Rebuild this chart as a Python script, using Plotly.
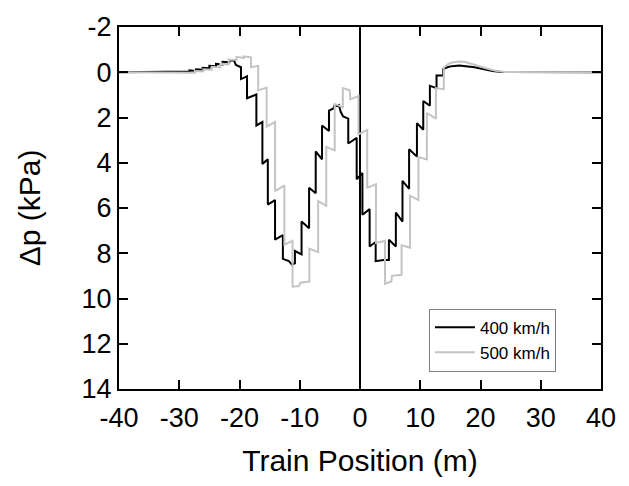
import plotly.graph_objects as go

# 400 km/h trace vertices (x in m, y in kPa)
black_pts = [(-40, 0), (-29.5, 0), (-28.3, -0.03), (-28.3, -0.08), (-27.2, -0.06), (-27.2, -0.13),
             (-26.1, -0.11), (-26.1, -0.2), (-25.0, -0.18), (-25.0, -0.28), (-23.9, -0.26), (-23.9, -0.37),
             (-22.8, -0.35), (-22.8, -0.46), (-21.7, -0.44), (-21.7, -0.53), (-20.9, -0.52), (-20.6, -0.32),
             (-19.75, -0.22), (-19.75, 0.3), (-18.75, 0.18), (-18.75, 1.15), (-17.2, 0.98), (-17.2, 2.35),
             (-16.2, 2.2), (-16.2, 4.05), (-15.3, 3.85), (-15.3, 5.85), (-14.1, 5.65), (-14.1, 7.4),
             (-12.8, 7.2), (-12.8, 8.25), (-11.8, 8.35), (-11.3, 8.5), (-10.8, 8.45), (-10.8, 7.9),
             (-9.7, 8.05), (-9.7, 6.6), (-8.45, 6.9), (-8.45, 5.1), (-7.35, 5.35), (-7.35, 3.5),
             (-6.3, 3.85), (-6.3, 2.35), (-5.15, 2.6), (-5.15, 1.7), (-4.4, 1.6), (-4.2, 1.45),
             (-3.8, 1.5), (-3.5, 1.45), (-3.2, 1.75), (-2.8, 1.95), (-1.95, 2.05), (-1.95, 3.15),
             (-0.55, 2.9), (-0.55, 4.73), (0.4, 4.45), (0.4, 6.3), (1.6, 6.05), (1.6, 7.7),
             (2.6, 7.5), (2.6, 8.35), (3.9, 8.3), (4.8, 8.3), (4.8, 7.4), (5.95, 7.7),
             (5.95, 6.2), (7.05, 6.6), (7.05, 4.8), (8.15, 5.15), (8.15, 3.4), (9.45, 3.73),
             (9.45, 2.25), (10.5, 2.54), (10.5, 1.27), (11.6, 1.48), (11.6, 0.6), (12.7, 0.7),
             (12.7, 0.14), (13.8, 0.14), (13.8, -0.14), (14.5, -0.22), (15.2, -0.27), (16.5, -0.3),
             (18, -0.27), (19, -0.22), (20, -0.17), (21, -0.11), (22, -0.05), (23.5, -0.01), (40, 0)]

# 500 km/h trace vertices
gray_pts = [(-40, 0), (-28.8, 0), (-27.4, 0.02), (-27.4, -0.05), (-26.0, -0.03), (-26.0, -0.13),
            (-24.6, -0.11), (-24.6, -0.24), (-23.2, -0.21), (-23.2, -0.38), (-21.8, -0.35), (-21.8, -0.56),
            (-20.5, -0.54), (-20.5, -0.68), (-19.3, -0.63), (-19.3, -0.7), (-18.1, -0.66), (-18.1, -0.22),
            (-16.9, -0.28), (-16.9, 0.8), (-15.5, 0.68), (-15.5, 2.4), (-14.1, 2.2), (-14.1, 5.25),
            (-12.55, 5.0), (-12.55, 7.62), (-11.2, 7.45), (-11.2, 9.48), (-10.1, 9.45), (-9.9, 9.3),
            (-8.4, 9.25), (-8.4, 7.8), (-6.95, 7.95), (-6.95, 5.7), (-5.6, 5.9), (-5.6, 3.3),
            (-4.2, 3.45), (-4.2, 1.4), (-2.85, 1.55), (-2.85, 0.7), (-1.7, 0.8), (-1.6, 1.2),
            (-0.25, 1.05), (-0.25, 2.75), (1.2, 2.55), (1.2, 5.1), (2.65, 4.95), (2.65, 7.55),
            (4.15, 7.45), (4.15, 9.35), (5.2, 9.25), (5.3, 9.0), (6.9, 8.95), (6.9, 7.65),
            (8.3, 7.75), (8.3, 5.45), (9.7, 5.65), (9.7, 3.75), (11.1, 3.85), (11.1, 1.8),
            (12.6, 2.05), (12.6, 0.7), (13.9, 0.75), (13.9, -0.2), (14.6, -0.36), (15.3, -0.43),
            (16.5, -0.47), (17.5, -0.45), (18.5, -0.38), (19.5, -0.3), (20.5, -0.21), (21.5, -0.13),
            (22.5, -0.06), (24, -0.01), (40, 0)]

series_names = ["400 km/h", "500 km/h"]
x_ticks = [-40, -30, -20, -10, 0, 10, 20, 30, 40]
y_ticks = [-2, 0, 2, 4, 6, 8, 10, 12, 14]

FONT = "Liberation Sans, Arial, sans-serif"

fig = go.Figure()
for pts, name, color in [(black_pts, series_names[0], "#000000"),
                         (gray_pts, series_names[1], "#c4c4c4")]:
    fig.add_trace(go.Scatter(
        x=[p[0] for p in pts], y=[p[1] for p in pts], mode="lines", name=name,
        line=dict(color=color, width=2)))

axis_common = dict(showline=True, linecolor="black", linewidth=2, mirror="ticks",
                   ticks="inside", ticklen=9, tickwidth=2, tickcolor="black",
                   showgrid=False, tickfont=dict(family=FONT, size=27, color="black"))

fig.update_layout(
    width=629, height=486,
    margin=dict(l=119, r=28, t=19, b=97),
    paper_bgcolor="white", plot_bgcolor="white",
    font=dict(family=FONT, color="black"),
    xaxis=dict(range=[x_ticks[0], x_ticks[-1]], tickvals=x_ticks,
               ticktext=[str(v) for v in x_ticks], ticklabelstandoff=4,
               zeroline=True, zerolinecolor="black", zerolinewidth=2,
               title=dict(text="Train Position (m)", font=dict(family=FONT, size=30), standoff=18),
               **axis_common),
    yaxis=dict(range=[y_ticks[-1], y_ticks[0]], tickvals=y_ticks,
               ticktext=[str(v) for v in y_ticks], zeroline=False,
               title=dict(text="Δp (kPa)", font=dict(family=FONT, size=30), standoff=32),
               **axis_common),
    legend=dict(x=0.643, y=0.222, xanchor="left", yanchor="top",
                bgcolor="white", bordercolor="#808080", borderwidth=1,
                font=dict(family=FONT, size=17, color="black"),
                tracegroupgap=0, itemwidth=40),
    showlegend=True,
)

fig.write_html("out.html")
